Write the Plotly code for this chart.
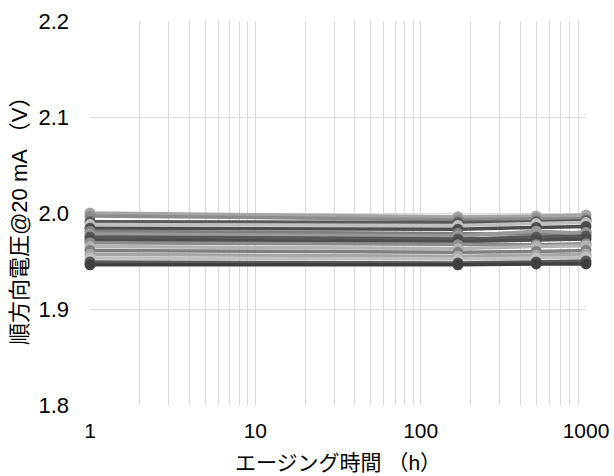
import plotly.graph_objects as go

hours = [1, 168, 500, 1000]

series = {
    "S1":  [2.000, 1.996, 1.997, 1.998],
    "S2":  [1.997, 1.993, 1.994, 1.994],
    "S3":  [1.991, 1.990, 1.991, 1.992],
    "S4":  [1.988, 1.987, 1.989, 1.990],
    "S5":  [1.984, 1.983, 1.985, 1.986],
    "S6":  [1.981, 1.979, 1.978, 1.980],
    "S7":  [1.978, 1.976, 1.981, 1.979],
    "S8":  [1.975, 1.973, 1.975, 1.976],
    "S9":  [1.972, 1.970, 1.972, 1.973],
    "S10": [1.969, 1.967, 1.967, 1.968],
    "S11": [1.965, 1.963, 1.965, 1.966],
    "S12": [1.961, 1.959, 1.960, 1.961],
    "S13": [1.957, 1.955, 1.956, 1.957],
    "S14": [1.953, 1.952, 1.953, 1.954],
    "S15": [1.949, 1.948, 1.949, 1.950],
    "S16": [1.946, 1.946, 1.947, 1.947],
}

colors = ["#a6a6a6", "#8c8c8c", "#595959", "#bfbfbf", "#4d4d4d", "#7f7f7f",
          "#999999", "#595959", "#4d4d4d", "#8c8c8c", "#b3b3b3", "#808080",
          "#a6a6a6", "#c0c0c0", "#595959", "#404040"]

y_ticks = [1.8, 1.9, 2.0, 2.1, 2.2]
x_ticks = [1, 10, 100, 1000]

x_title = "エージング時間 （h）"
y_title = "順方向電圧@20 mA （V）"

fig = go.Figure()
for (name, vals), c in zip(series.items(), colors):
    fig.add_trace(go.Scatter(
        x=hours, y=vals, mode="lines+markers", name=name,
        line=dict(color=c, width=3.5),
        marker=dict(color=c, size=11),
        cliponaxis=False,
        showlegend=False,
    ))

grid = "#d9d9d9"
font = "Liberation Sans, Arial, Noto Sans CJK JP, sans-serif"
fig.update_layout(
    width=614, height=476,
    margin=dict(l=90, r=28, t=21, b=71),
    paper_bgcolor="white", plot_bgcolor="white",
    font=dict(family=font, size=21, color="#000000"),
)
fig.update_xaxes(
    type="log", range=[0, 3], automargin=False,
    tickvals=x_ticks, ticktext=[str(v) for v in x_ticks],
    showgrid=True, gridcolor=grid, gridwidth=1,
    minor=dict(showgrid=True, gridcolor=grid, gridwidth=1, dtick="D1"),
    showline=False, zeroline=False, ticks="", ticklabelstandoff=11,
)
fig.update_yaxes(
    range=[1.8, 2.2], automargin=False,
    tickvals=y_ticks, ticktext=[f"{v:.1f}" for v in y_ticks],
    tickfont=dict(size=22),
    showgrid=True, gridcolor=grid, gridwidth=1,
    showline=False, zeroline=False, ticks="", ticklabelstandoff=20,
)
fig.add_annotation(text=x_title, xref="paper", yref="paper",
                   x=(338 - 90) / 496, y=(405 - 462) / 384,
                   xanchor="center", yanchor="middle", showarrow=False,
                   font=dict(size=21, family=font))
fig.add_annotation(text=y_title, xref="paper", yref="paper",
                   x=(20 - 90) / 496, y=(405 - 215) / 384, textangle=-90,
                   xanchor="center", yanchor="middle", showarrow=False,
                   font=dict(size=22, family=font))

fig.write_html("out.html")
